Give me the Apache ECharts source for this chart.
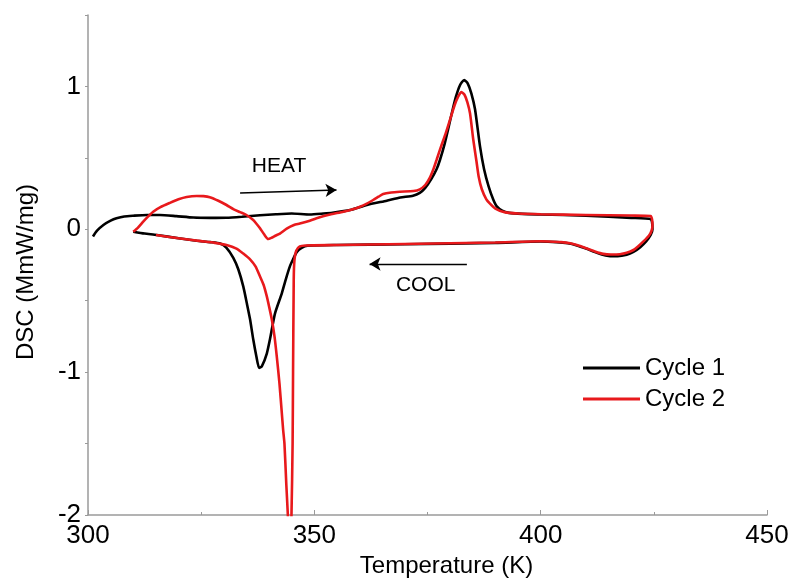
<!DOCTYPE html>
<html>
<head>
<meta charset="utf-8">
<script src="https://cdn.jsdelivr.net/npm/echarts@6/dist/echarts.min.js"></script>
<style>
  html, body { margin: 0; padding: 0; background: #fff; }
  #chart { width: 792px; height: 579px; }
</style>
</head>
<body>
<div id="chart"></div>
<script>
// DSC thermogram: two heat/cool cycles, temperature (K) vs heat flow (MmW/mg)

// Cycle 1: heating run 301 K -> 424.7 K, then cooling back to 310 K
const cycle1 = [
  [301.1, -0.05], [302.0, -0.01], [303.4, 0.03], [305.0, 0.06], [306.3, 0.077],
  [308.0, 0.09], [310.0, 0.095], [313.0, 0.1], [315.9, 0.1], [319.5, 0.092],
  [323.3, 0.082], [327.0, 0.08], [330.6, 0.081], [334.0, 0.088], [338.0, 0.098],
  [341.5, 0.105], [345.0, 0.11], [349.0, 0.103], [352.0, 0.11], [354.0, 0.116],
  [357.9, 0.135], [361.6, 0.17], [366.0, 0.2], [369.0, 0.222], [371.8, 0.235],
  [373.3, 0.255], [374.5, 0.29], [375.8, 0.35], [377.0, 0.42], [377.75, 0.485],
  [378.8, 0.6], [379.7, 0.72], [380.5, 0.83], [381.3, 0.93], [382.2, 1.01],
  [383.1, 1.045], [383.9, 1.02], [384.7, 0.95], [385.5, 0.84], [386.6, 0.58],
  [387.5, 0.42], [388.5, 0.3], [389.5, 0.21], [390.3, 0.16], [391.5, 0.13],
  [393.0, 0.115], [396.0, 0.108], [400.0, 0.104], [410.0, 0.095], [420.0, 0.08],
  [424.3, 0.072],
  [424.6, 0.05], [424.7, 0.0], [424.3, -0.04], [423.3, -0.085], [422.0, -0.125],
  [420.5, -0.158], [419.0, -0.178], [417.0, -0.188], [415.0, -0.186], [413.5, -0.176],
  [412.0, -0.16], [410.0, -0.135], [408.0, -0.113], [406.0, -0.098], [403.5, -0.09],
  [400.0, -0.086], [390.0, -0.095], [370.0, -0.105], [355.0, -0.11], [348.5, -0.115],
  [347.2, -0.13], [346.1, -0.16], [345.3, -0.21], [344.6, -0.26], [343.7, -0.35],
  [342.8, -0.45], [341.3, -0.59], [340.2, -0.77], [339.5, -0.87], [338.4, -0.96],
  [337.8, -0.97], [337.2, -0.89], [336.5, -0.77], [335.8, -0.63], [335.1, -0.52],
  [334.3, -0.40], [333.2, -0.28], [332.1, -0.2], [330.6, -0.13], [329.2, -0.1],
  [327.0, -0.09], [324.0, -0.08], [320.0, -0.063], [315.2, -0.04], [312.5, -0.03],
  [310.0, -0.017]
];

// Cycle 2: heating run 310 K -> 424.7 K, then cooling back to 315 K
const cycle2 = [
  [310.0, -0.017], [311.0, 0.01], [312.2, 0.053], [313.3, 0.09], [314.4, 0.123],
  [316.0, 0.155], [318.1, 0.185], [320.0, 0.21], [321.8, 0.226], [324.0, 0.233],
  [325.5, 0.232], [326.9, 0.225], [328.8, 0.2], [330.6, 0.17], [332.2, 0.14],
  [333.6, 0.12], [335.0, 0.1], [336.5, 0.065], [337.3, 0.035], [338.0, 0.007],
  [338.9, -0.035], [339.8, -0.068], [340.5, -0.06], [341.4, -0.045], [342.4, -0.03],
  [343.9, 0.005], [345.5, 0.03], [346.8, 0.04], [349.0, 0.06], [350.5, 0.077],
  [353.0, 0.1], [356.4, 0.123], [358.5, 0.14], [360.1, 0.158], [361.6, 0.18],
  [363.0, 0.205], [364.2, 0.228], [365.2, 0.247], [367.0, 0.258], [368.9, 0.263],
  [371.9, 0.268], [373.3, 0.28], [374.5, 0.31], [375.5, 0.36], [376.3, 0.42],
  [377.0, 0.485], [378.0, 0.58], [379.0, 0.67], [380.0, 0.77], [381.0, 0.87],
  [381.8, 0.93], [382.5, 0.96], [383.2, 0.94], [383.8, 0.89], [384.4, 0.81],
  [385.1, 0.63], [385.8, 0.48], [386.3, 0.37], [387.0, 0.28], [388.0, 0.21],
  [388.8, 0.18], [390.0, 0.145], [392.0, 0.12], [395.0, 0.11], [400.0, 0.105],
  [410.0, 0.1], [420.0, 0.096], [424.3, 0.093],
  [424.6, 0.07], [424.7, 0.03], [424.5, -0.01], [423.9, -0.045], [422.7, -0.085],
  [421.5, -0.12], [420.5, -0.145], [419.0, -0.165], [417.5, -0.175], [415.5, -0.177],
  [413.8, -0.172], [412.0, -0.155], [410.1, -0.133], [408.0, -0.11], [406.5, -0.098],
  [404.5, -0.09], [402.8, -0.087], [400.0, -0.084], [390.0, -0.092], [370.0, -0.103],
  [355.0, -0.11], [348.0, -0.113], [346.8, -0.12], [346.0, -0.15], [345.6, -0.22],
  [345.45, -0.35], [345.3, -1.0], [345.2, -1.5], [344.95, -2.0], [344.55, -2.3],
  [344.15, -2.0], [343.8, -1.78], [343.4, -1.5], [343.1, -1.4], [342.8, -1.28],
  [342.3, -1.08], [341.7, -0.89], [341.2, -0.75], [340.6, -0.63], [340.0, -0.54],
  [339.5, -0.47], [338.8, -0.39], [338.0, -0.33], [337.0, -0.26], [335.8, -0.21],
  [334.3, -0.17], [332.8, -0.135], [330.6, -0.11], [328.0, -0.095], [325.0, -0.083],
  [320.0, -0.063], [315.0, -0.04]
];

const seriesNames = ['Cycle 1', 'Cycle 2'];
const xTicks = { min: 300, max: 450, step: 50 };
const yTicks = { min: -2, max: 1.5, step: 0.5 };

// direction arrows and their captions, in data units
const arrows = [
  [[333.6, 0.254], [354.9, 0.275]],
  [[383.7, -0.243], [362.2, -0.243]]
];
const captions = [
  [342.2, 0.443, 'HEAT'],
  [374.6, -0.392, 'COOL']
];

const FONT = '"Liberation Sans", Arial, Helvetica, sans-serif';
const AXIS_GREY = '#9a9a9a';

const chart = echarts.init(document.getElementById('chart'), null, { renderer: 'canvas' });

chart.setOption({
  animation: false,
  backgroundColor: '#fff',
  grid: { left: 88, right: 25, top: 15, bottom: 64, containLabel: false, outerBoundsMode: 'none' },
  legend: {
    data: seriesNames,
    orient: 'vertical',
    left: 578,
    top: 351,
    padding: 5,
    icon: 'rect',
    itemWidth: 57,
    itemHeight: 3,
    itemGap: 7,
    textStyle: { fontFamily: FONT, fontSize: 24, color: '#000' }
  },
  xAxis: {
    type: 'value',
    min: xTicks.min,
    max: xTicks.max,
    interval: xTicks.step,
    name: 'Temperature (K)',
    nameLocation: 'middle',
    nameGap: 32,
    nameTextStyle: { fontFamily: FONT, fontSize: 24, color: '#000', padding: [0, 0, 0, 38] },
    axisLine: { onZero: false, lineStyle: { color: AXIS_GREY, width: 1.5 } },
    axisTick: { inside: true, length: 5, lineStyle: { color: AXIS_GREY, width: 1 } },
    minorTick: { show: true, splitNumber: 2, length: 3, lineStyle: { color: AXIS_GREY, width: 1 } },
    splitLine: { show: false },
    axisLabel: { fontFamily: FONT, fontSize: 26, color: '#000', margin: 8 }
  },
  yAxis: {
    type: 'value',
    min: yTicks.min,
    max: yTicks.max,
    interval: yTicks.step,
    name: 'DSC (MmW/mg)',
    nameLocation: 'middle',
    nameRotate: 90,
    nameGap: 50,
    nameTextStyle: { fontFamily: FONT, fontSize: 24, color: '#000', padding: [0, 14, 0, 0] },
    axisLine: { show: true, onZero: false, lineStyle: { color: AXIS_GREY, width: 1.5 } },
    axisTick: { inside: false, length: 3, lineStyle: { color: AXIS_GREY, width: 1 } },
    splitLine: { show: false },
    axisLabel: {
      fontFamily: FONT, fontSize: 26, color: '#000', margin: 7,
      formatter: v => (Number.isInteger(v) && v <= 1 ? String(v) : '')
    }
  },
  series: [
    {
      name: seriesNames[0],
      type: 'line',
      data: cycle1,
      symbol: 'none',
      smooth: 0.2,
      clip: true,
      lineStyle: { color: '#000', width: 2.6 },
      itemStyle: { color: '#000' },
      z: 2
    },
    {
      name: seriesNames[1],
      type: 'line',
      data: cycle2,
      symbol: 'none',
      smooth: 0.2,
      clip: true,
      lineStyle: { color: '#e8191c', width: 2.6 },
      itemStyle: { color: '#e8191c' },
      z: 3
    },
    {
      name: 'arrows',
      type: 'line',
      data: [],
      silent: true,
      markLine: {
        silent: true,
        symbol: ['none', 'arrow'],
        symbolSize: [10, 11],
        label: { show: false },
        lineStyle: { color: '#000', width: 1.3, type: 'solid' },
        data: arrows.map(a => [{ coord: a[0] }, { coord: a[1] }])
      },
      z: 4
    }
  ]
});

// captions placed at their data positions through the chart's own scales
chart.setOption({
  graphic: captions.map(c => {
    const p = chart.convertToPixel({ gridIndex: 0 }, [c[0], c[1]]);
    return {
      type: 'text',
      x: p[0],
      y: p[1],
      silent: true,
      z: 10,
      style: {
        text: c[2],
        fill: '#000',
        font: '21px ' + FONT,
        align: 'center',
        verticalAlign: 'middle'
      }
    };
  })
});
</script>
</body>
</html>
